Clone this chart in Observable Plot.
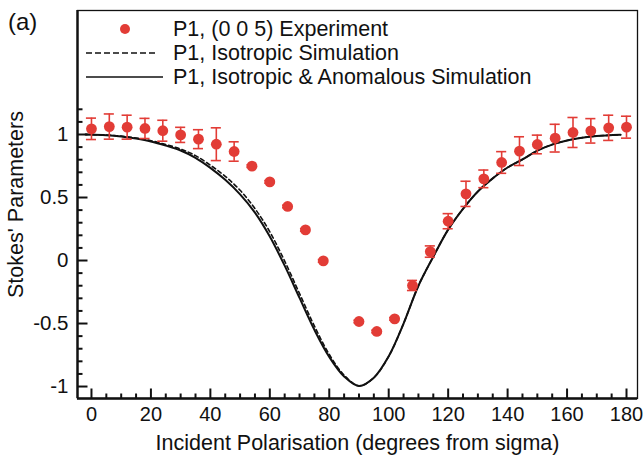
<!DOCTYPE html>
<html>
<head>
<meta charset="utf-8">
<script src="https://cdn.jsdelivr.net/npm/d3@7"></script>
<script src="https://cdn.jsdelivr.net/npm/@observablehq/plot@0.6"></script>
<style>
  body { margin: 0; background: #fff; }
  #chart { position: relative; width: 643px; height: 465px; font-family: "Liberation Sans", Arial, sans-serif; color: #111; }
  .lg { position: absolute; font-size: 21.5px; line-height: 26px; height: 26px; white-space: nowrap; }
</style>
</head>
<body>
<div id="chart"></div>
<script>
// P1 measured on (0 0 5), one point every 6 degrees (84 missing)
const expAngle = [0, 6, 12, 18, 24, 30, 36, 42, 48, 54, 60, 66, 72, 78,
  90, 96, 102, 108, 114, 120, 126, 132, 138, 144, 150, 156, 162, 168, 174, 180];
const expP1 = [1.045, 1.063, 1.058, 1.048, 1.03, 0.997, 0.963, 0.923, 0.865, 0.749, 0.624, 0.429, 0.243, -0.003,
  -0.484, -0.563, -0.463, -0.198, 0.071, 0.312, 0.529, 0.648, 0.778, 0.868, 0.921, 0.971, 1.016, 1.029, 1.053, 1.058];
const expErr = [0.085, 0.1, 0.095, 0.08, 0.083, 0.06, 0.075, 0.13, 0.077, 0.01, 0.01, 0.01, 0.01, 0.01,
  0.01, 0.01, 0.01, 0.04, 0.045, 0.06, 0.1, 0.07, 0.086, 0.114, 0.074, 0.11, 0.119, 0.097, 0.1, 0.087];

// simulations
const simAngle = [-2, 5, 10, 15, 20, 25, 30, 35, 40, 45, 50, 55, 60, 65, 70, 75, 80, 85, 90,
  95, 100, 105, 110, 115, 120, 125, 130, 135, 140, 145, 150, 155, 160, 165, 170, 178];
const isoP1 = [1.0, 0.996, 0.987, 0.972, 0.951, 0.92, 0.885, 0.832, 0.757, 0.668, 0.557, 0.412, 0.228, -0.005, -0.262, -0.52, -0.745, -0.91, -0.995,
  -0.93, -0.76, -0.5, -0.2, 0.03, 0.245, 0.41, 0.548, 0.652, 0.738, 0.802, 0.872, 0.92, 0.952, 0.974, 0.988, 0.998];
const anomP1 = [1.0, 0.995, 0.985, 0.968, 0.945, 0.912, 0.873, 0.815, 0.735, 0.64, 0.525, 0.38, 0.19, -0.041, -0.297, -0.55, -0.765, -0.92, -0.995,
  -0.93, -0.76, -0.5, -0.2, 0.03, 0.245, 0.41, 0.548, 0.652, 0.738, 0.802, 0.872, 0.92, 0.952, 0.974, 0.988, 0.998];

const xTicks = [0, 20, 40, 60, 80, 100, 120, 140, 160, 180];
const yTicks = [-1, -0.5, 0, 0.5, 1];
const xMinor = d3.range(0, 181, 5);
const yMinor = d3.range(-10, 13).map(i => i / 10);

const red = "#e23c36";
const xDom = [-4.7, 183.7];
const yDom = [-1.095, 1.984];

const W = 643, H = 465, mL = 77, mR = 6, mT = 10, mB = 67;
// tick lengths in pixels, turned into data units so the ticks point inwards
const kx = (xDom[1] - xDom[0]) / (W - mL - mR);
const ky = (yDom[1] - yDom[0]) / (H - mT - mB);
const xTickMarks = xMinor.map(v => ({v, a: yDom[0], b: yDom[0] + (v % 20 === 0 ? 10 : 5) * ky}));
const yTickMarks = yMinor.map(v => ({v, a: xDom[0], b: xDom[0] + (Math.abs(v * 10) % 5 === 0 ? 10 : 5) * kx}));

const exp = expAngle.map((a, i) => ({angle: a, p1: expP1[i], lo: expP1[i] - expErr[i], hi: expP1[i] + expErr[i]}));
const iso = simAngle.map((a, i) => ({angle: a, p1: isoP1[i]}));
const anom = simAngle.map((a, i) => ({angle: a, p1: anomP1[i]}));

const chart = Plot.plot({
  width: W,
  height: H,
  marginLeft: mL,
  marginRight: mR,
  marginTop: mT,
  marginBottom: mB,
  style: {fontFamily: "Liberation Sans, Arial, sans-serif", fontSize: "20px", color: "#111", background: "white"},
  x: {domain: xDom},
  y: {domain: yDom},
  marks: [
    Plot.frame({stroke: "#111", strokeWidth: 1.3}),
    Plot.link(xTickMarks, {x1: "v", x2: "v", y1: "a", y2: "b", stroke: "#111", strokeWidth: 2}),
    Plot.link(yTickMarks, {x1: "a", x2: "b", y1: "v", y2: "v", stroke: "#111", strokeWidth: 2}),
    Plot.ruleX([xDom[0]], {stroke: "#111", strokeWidth: 2.4}),
    Plot.ruleY([yDom[0]], {stroke: "#111", strokeWidth: 2.4}),
    Plot.axisX(xTicks, {tickSize: 0, tickPadding: 8, fontSize: 20, label: null}),
    Plot.axisX({ticks: [], tickSize: 0, label: "Incident Polarisation (degrees from sigma)", labelArrow: false, labelAnchor: "center", labelOffset: 51, fontSize: 21.5}),
    Plot.axisY(yTicks, {tickSize: 0, tickPadding: 9, tickFormat: d => String(d), fontSize: 20.5, label: null}),
    Plot.axisY({ticks: [], tickSize: 0, label: "Stokes' Parameters", labelArrow: false, labelAnchor: "center", labelOffset: 70, fontSize: 21.5}),
    Plot.line(iso, {x: "angle", y: "p1", stroke: "#111", strokeWidth: 1.6, strokeDasharray: "4,3", curve: "catmull-rom"}),
    Plot.line(anom, {x: "angle", y: "p1", stroke: "#111", strokeWidth: 2, curve: "catmull-rom"}),
    Plot.ruleX(exp, {x: "angle", y1: "lo", y2: "hi", stroke: red, strokeWidth: 1.6}),
    Plot.ruleY(exp, {y: "hi", x1: d => d.angle - 1.7, x2: d => d.angle + 1.7, stroke: red, strokeWidth: 1.6}),
    Plot.ruleY(exp, {y: "lo", x1: d => d.angle - 1.7, x2: d => d.angle + 1.7, stroke: red, strokeWidth: 1.6}),
    Plot.dot(exp, {x: "angle", y: "p1", r: 5.4, fill: red})
  ]
});

const box = d3.select("#chart");
box.append(() => chart);

// legend sits inside the frame, top left
box.append("div").attr("class", "lg").style("left", "8px").style("top", "9px").style("font-size", "24px").text("(a)");
const rows = [
  {y: 29, text: "P1, (0 0 5) Experiment", kind: "dot"},
  {y: 53, text: "P1, Isotropic Simulation", kind: "dash"},
  {y: 77, text: "P1, Isotropic & Anomalous Simulation", kind: "solid"}
];
rows.forEach(r => {
  box.append("div").attr("class", "lg").style("left", "173px").style("top", (r.y - 13) + "px").text(r.text);
  const s = box.append("svg").style("position", "absolute").style("left", "0px").style("top", "0px")
    .attr("width", 170).attr("height", 100).style("overflow", "visible");
  if (r.kind === "dot") s.append("circle").attr("cx", 125).attr("cy", r.y).attr("r", 5).attr("fill", red);
  else s.append("line").attr("x1", 86).attr("x2", r.kind === "dash" ? 158 : 163).attr("y1", r.y).attr("y2", r.y)
    .attr("stroke", "#111").attr("stroke-width", 1.5).attr("stroke-dasharray", r.kind === "dash" ? "6,3" : null);
});
</script>
</body>
</html>
